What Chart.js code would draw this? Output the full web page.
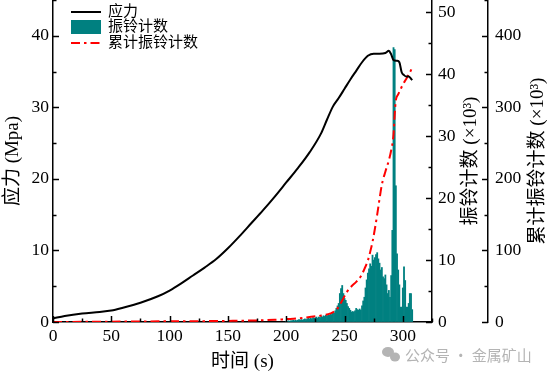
<!DOCTYPE html>
<html><head><meta charset="utf-8">
<script src="https://cdn.jsdelivr.net/npm/chart.js@4.4.0/dist/chart.umd.min.js"></script>
<style>html,body{margin:0;padding:0;background:#fff;}#wrap{width:550px;height:377px;}</style>
</head><body><div id="wrap"><canvas id="c" width="550" height="377"></canvas></div>
<script>
// ---- data ----
const stressTime  = [0,10,25,40,50,60,75,90,100,110,120,130,140,150,160,170,180,190,200,210,220,230,235,240,245,250,255,260,265,270,275,280,285,288,290,292,295,297,299,301,303,305,307,308];
const stressValue = [0.5,0.85,1.2,1.4,1.6,2.0,2.7,3.6,4.4,5.4,6.5,7.6,8.8,10.3,12.0,13.8,15.6,17.5,19.5,21.5,23.7,26.4,28.3,30.1,31.3,32.6,33.9,35.1,36.3,37.2,37.5,37.5,37.6,37.9,37.4,36.6,36.5,36.3,34.9,34.5,34.3,34.3,34.0,33.8];

const cumTime  = [0,50,100,150,190,200,210,220,230,238,243,246,249,252,256,260,264,267,270,272,274,276,278,280,282,285,288,290,292,293,294,296,298,300,303,305,307,308];
const cumValue = [0,0.5,1,1.5,3,4,5,7,9,12,17,24,33,42,50,56,64,74,86,98,112,130,150,172,192,210,226,240,262,290,310,318,325,332,340,346,352,357];

const ringTime = [200,201,202,203,204,205,206,207,208,209,210,211,212,213,214,215,216,217,218,219,220,221,222,223,224,225,226,227,228,229,230,231,232,233,234,235,236,237,238,239,240,241,242,243,244,245,246,247,248,249,250,251,252,253,254,255,256,257,258,259,260,261,262,263,264,265,266,267,268,269,270,271,272,273,274,275,276,277,278,279,280,281,282,283,284,285,286,287,288,289,290,291,292,293,294,295,296,297,298,299,300,301,302,303,304,305,306,307,308];
const ringValue = [0.1,0.1,0.2,0.1,0.2,0.2,0.3,0.2,0.3,0.2,
  0.3,0.4,0.3,0.4,0.3,0.4,0.5,0.4,0.5,0.6,
  0.5,0.6,0.5,0.7,0.6,0.7,0.8,0.6,0.8,0.7,
  0.9,0.8,1.0,0.9,1.1,1.0,1.2,1.1,1.3,1.2,
  1.5,1.4,1.8,2.2,2.6,3.0,4.6,5.4,5.9,4.6,
  3.8,3.5,3.0,2.5,2.2,1.9,1.6,1.7,1.6,1.8,
  2.2,2.0,1.9,2.1,1.9,2.6,3.4,4.0,5.5,6.8,
  7.9,8.6,9.4,9.0,10.8,10.0,10.4,10.9,11.2,10.2,
  9.5,8.4,8.8,7.3,7.0,7.6,6.0,4.6,5.1,4.0,
  7.5,14.8,44.3,44.0,22.0,11.0,8.4,6.0,2.4,2.4,
  5.5,8.9,6.7,2.4,2.4,3.0,4.6,4.6,2.0];

const xTicks = [0,50,100,150,200,250,300];
const xMinor = [25,75,125,175,225,275,325];
const stressTicks = [0,10,20,30,40];
const stressMinor = [5,15,25,35,45];
const ringTicks = [0,10,20,30,40,50];
const ringMinor = [5,15,25,35,45];
const cumTicks = [0,100,200,300,400];
const cumMinor = [50,150,250,350,450];

const seriesLabels = ['应力','振铃计数','累计振铃计数'];
const axisTitles = {x:'时间 (s)', y:'应力 (Mpa)', y1:'振铃计数 (×10³)', y2:'累计振铃计数 (×10³)'};
const watermark = '公众号 · 金属矿山';

// ---- chart ----
const serif = '"Liberation Serif", "Noto Sans CJK SC", serif';
const tickFont = {family: serif, size: 17.5};
const RED = '#ff0000', TEAL = '#008080';
const DASH = [9,4,2.5,4];

function setTicks(list){ return s => { s.ticks = list.map(v => ({value: v})); }; }
function fitTo(prop, size){
  return s => { s[prop] = size; s.paddingTop = 0; s.paddingBottom = 0; s.paddingLeft = 0; s.paddingRight = 0; };
}
function baseAxis(extra){
  return Object.assign({
    offset:false,
    grid:{display:true, drawOnChartArea:false, drawTicks:false, offset:false},
    border:{display:true, color:'#000', width:1.5},
    ticks:{font:tickFont, color:'#000', padding:4, autoSkip:false, maxRotation:0}
  }, extra);
}

const inward = {
  id:'inward',
  afterDraw(chart){
    const ctx = chart.ctx, a = chart.chartArea, sc = chart.scales;
    ctx.save();
    ctx.strokeStyle = '#000'; ctx.lineWidth = 1.5;
    const vt = (scale, x, list, len) => list.forEach(v => {
      const y = Math.round(scale.getPixelForValue(v)) + 0.5;
      ctx.beginPath(); ctx.moveTo(x, y); ctx.lineTo(x + len, y); ctx.stroke();
    });
    const ht = (scale, y, list, len) => list.forEach(v => {
      const x = Math.round(scale.getPixelForValue(v)) + 0.5;
      ctx.beginPath(); ctx.moveTo(x, y); ctx.lineTo(x, y - len); ctx.stroke();
    });
    ht(sc.x, a.bottom, xTicks, 6); ht(sc.x, a.bottom, xMinor, 3.5);
    vt(sc.y, a.left, stressTicks, 6); vt(sc.y, a.left, stressMinor, 3.5);
    vt(sc.y1, a.right, ringTicks, -6); vt(sc.y1, a.right, ringMinor, -3.5);
    const x2 = sc.y2.left;
    vt(sc.y2, x2, cumTicks, -6); vt(sc.y2, x2, cumMinor, -3.5);

    // axis titles
    ctx.fillStyle = '#000';
    ctx.textAlign = 'center'; ctx.textBaseline = 'middle';
    ctx.font = '19px ' + serif;
    ctx.fillText(axisTitles.x, (a.left + a.right) / 2, 362);
    const rot = (t, x, y) => { ctx.save(); ctx.translate(x, y); ctx.rotate(-Math.PI/2); ctx.fillText(t, 0, 0); ctx.restore(); };
    const mid = (a.top + a.bottom) / 2;
    rot(axisTitles.y, 13, mid);
    rot(axisTitles.y1, 471, mid);
    rot(axisTitles.y2, 538, mid);

    // legend
    ctx.lineWidth = 2; ctx.strokeStyle = '#000';
    ctx.beginPath(); ctx.moveTo(71, 12); ctx.lineTo(101, 12); ctx.stroke();
    ctx.fillStyle = TEAL; ctx.fillRect(71, 20, 30, 14);
    ctx.strokeStyle = RED; ctx.setLineDash(DASH);
    ctx.beginPath(); ctx.moveTo(71, 43); ctx.lineTo(101, 43); ctx.stroke();
    ctx.setLineDash([]);
    ctx.fillStyle = '#000'; ctx.textAlign = 'left';
    ctx.font = '15px ' + serif;
    ctx.fillText(seriesLabels[0], 108, 12);
    ctx.fillText(seriesLabels[1], 108, 27);
    ctx.fillText(seriesLabels[2], 108, 43);

    // watermark
    ctx.fillStyle = '#b4b4b4';
    ctx.beginPath(); ctx.ellipse(388, 352, 6, 5, 0, 0, Math.PI*2); ctx.fill();
    ctx.beginPath(); ctx.ellipse(395, 357, 5, 4.5, 0, 0, Math.PI*2); ctx.fill();
    ctx.font = '15px "Noto Sans CJK SC", sans-serif';
    ctx.fillText(watermark, 405, 355);
    ctx.restore();
  }
};

new Chart(document.getElementById('c'), {
  type:'bar',
  data:{
    datasets:[
      {type:'line', label:seriesLabels[0], data: stressTime.map((t,i)=>({x:t,y:stressValue[i]})),
        yAxisID:'y', borderColor:'#000', borderWidth:2, pointRadius:0, cubicInterpolationMode:'monotone', order:1},
      {type:'line', label:seriesLabels[2], data: cumTime.map((t,i)=>({x:t,y:cumValue[i]})),
        yAxisID:'y2', borderColor:RED, borderWidth:2, borderDash:DASH, pointRadius:0, cubicInterpolationMode:'monotone', order:2},
      {type:'bar', label:seriesLabels[1], data: ringTime.map((t,i)=>({x:t,y:ringValue[i]})),
        yAxisID:'y1', backgroundColor:TEAL, borderWidth:0, barPercentage:1, categoryPercentage:1, order:3}
    ]
  },
  options:{
    responsive:false, animation:false, devicePixelRatio:1,
    layout:{padding:0},
    plugins:{legend:{display:false}, tooltip:{enabled:false}},
    scales:{
      x: baseAxis({type:'linear', position:'bottom', min:0, max:325, afterBuildTicks:setTicks(xTicks), afterFit:fitTo('height',55)}),
      y: baseAxis({type:'linear', position:'left', min:0, max:45, afterBuildTicks:setTicks(stressTicks), afterFit:fitTo('width',53)}),
      y1: baseAxis({type:'linear', position:'right', weight:0, min:0, max:52, afterBuildTicks:setTicks(ringTicks), afterFit:fitTo('width',56),
        ticks:{font:tickFont, color:'#000', padding:6, autoSkip:false}}),
      y2: baseAxis({type:'linear', position:'right', weight:1, min:0, max:450, afterBuildTicks:setTicks(cumTicks), afterFit:fitTo('width',62),
        ticks:{font:tickFont, color:'#000', padding:7, autoSkip:false}})
    }
  },
  plugins:[inward]
});
</script></body></html>
